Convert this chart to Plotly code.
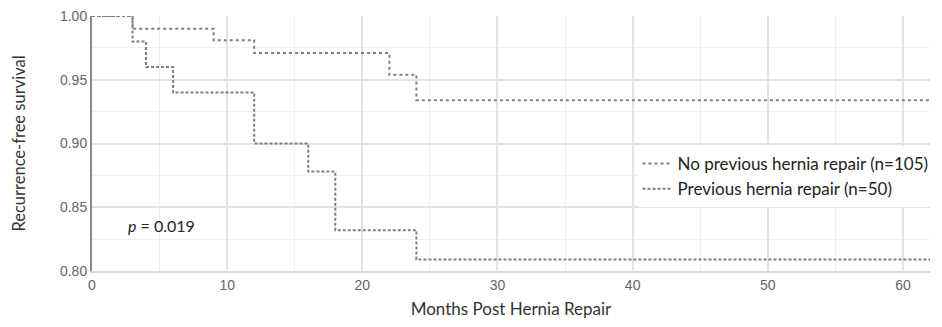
import plotly.graph_objects as go

# Kaplan-Meier step data
months_no_prev = [0, 3, 9, 12, 22, 24, 62]
surv_no_prev = [1.0, 0.990, 0.981, 0.971, 0.954, 0.934, 0.934]

months_prev = [0, 3, 4, 6, 12, 16, 18, 24, 62]
surv_prev = [1.0, 0.980, 0.960, 0.940, 0.900, 0.878, 0.832, 0.809, 0.809]

name_no_prev = "No previous hernia repair (n=105)"
name_prev = "Previous hernia repair (n=50)"

x_ticks = [0, 10, 20, 30, 40, 50, 60]
y_ticks = [0.80, 0.85, 0.90, 0.95, 1.00]
p_text = "<i>p</i> = 0.019"

line_color = "#7f7f7f"
txt_font = "Lato"

fig = go.Figure()
fig.add_trace(go.Scatter(
    x=months_no_prev, y=surv_no_prev, mode="lines", line_shape="hv",
    name=name_no_prev,
    line=dict(color=line_color, width=2, dash="dot"),
))
fig.add_trace(go.Scatter(
    x=months_prev, y=surv_prev, mode="lines", line_shape="hv",
    name=name_prev,
    line=dict(color=line_color, width=2, dash="3px,2px"),
))

fig.add_annotation(
    x=2.5, y=0.8355, xref="x", yref="y", text=p_text, showarrow=False,
    xanchor="left", yanchor="middle",
    font=dict(family=txt_font, size=16, color="#222222"),
)

# page body has an 8px default margin, so the figure is sized to fit inside it
fig.update_layout(
    width=926, height=311,
    margin=dict(l=84, r=4, t=8, b=48, autoexpand=False),
    paper_bgcolor="white", plot_bgcolor="white",
    showlegend=True,
    legend=dict(
        x=0.651, y=0.49, xanchor="left", yanchor="top",
        bgcolor="white", borderwidth=0,
        font=dict(family=txt_font, size=17, color="#222222"),
        tracegroupgap=0, itemwidth=30,
    ),
    xaxis=dict(
        range=[0, 62], tickvals=x_ticks, ticktext=[str(v) for v in x_ticks],
        automargin=False,
        showgrid=True, gridcolor="#e3e3e3", gridwidth=1.5,
        minor=dict(dtick=5, showgrid=True, gridcolor="#f0f0f0", gridwidth=1),
        showline=True, linecolor="#d9d9d9", linewidth=1.5,
        zeroline=False, ticks="",
        tickfont=dict(family="Liberation Sans", size=14, color="#666666"),
        title=dict(text="Months Post Hernia Repair",
                   font=dict(family=txt_font, size=17, color="#333333")),
    ),
    yaxis=dict(
        range=[0.80, 1.00], tickvals=y_ticks,
        ticktext=["%.2f" % v for v in y_ticks],
        automargin=False, ticklabeloverflow="allow",
        showgrid=True, gridcolor="#e3e3e3", gridwidth=1.5,
        minor=dict(dtick=0.025, tick0=0.8, showgrid=True, gridcolor="#f0f0f0", gridwidth=1),
        showline=True, linecolor="#888888", linewidth=2,
        zeroline=False, ticks="",
        tickfont=dict(family="Liberation Sans", size=14, color="#666666"),
        title=dict(text="Recurrence-free survival", standoff=30,
                   font=dict(family=txt_font, size=16.5, color="#333333")),
    ),
)

fig.write_html("out.html")
